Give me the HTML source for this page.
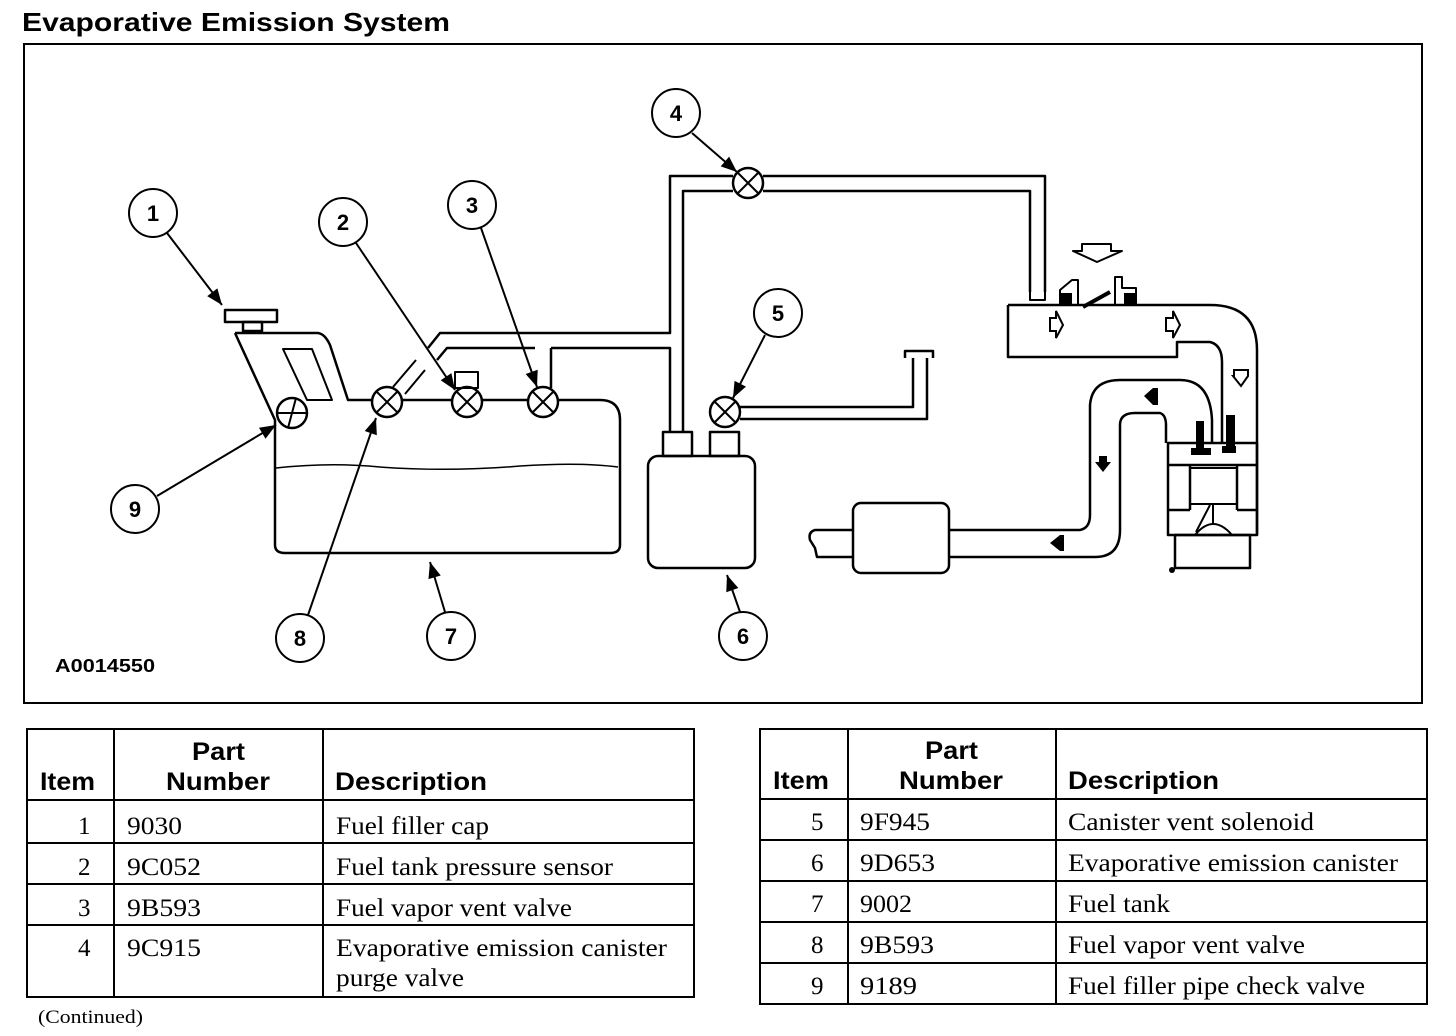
<!DOCTYPE html>
<html><head><meta charset="utf-8"><style>
html,body{margin:0;padding:0;background:#fff;}
svg{display:block;}
.s{font-family:"Liberation Sans",sans-serif;font-weight:bold;}
.r{font-family:"Liberation Serif",serif;}
</style></head><body>
<svg width="1456" height="1036" viewBox="0 0 1456 1036" xmlns="http://www.w3.org/2000/svg">
<defs>
<marker id="a2" viewBox="0 0 10 10" refX="10" refY="5" markerWidth="22" markerHeight="16" orient="auto" markerUnits="userSpaceOnUse">
<path d="M0,1 L10,5 L0,9 z" fill="#000"/></marker>
</defs>
<text x="22" y="31" class="s" font-size="26" textLength="428" lengthAdjust="spacingAndGlyphs">Evaporative Emission System</text>
<rect x="24" y="44" width="1398" height="659" fill="none" stroke="#000" stroke-width="2"/>

<g fill="none" stroke="#000" stroke-width="2.5" stroke-linejoin="round">
<rect x="225" y="310" width="52" height="12"/>
<rect x="243" y="322" width="19" height="9"/>
<path d="M235,333 L318,333 Q325,334 330,345 L348,400 L600,400 Q620,400 620,420 L620,545 Q620,553 610,553 L285,553 Q275,553 275,545 L275,420 L235,333"/>
<path d="M283,349 L312,349 L332,400 L307,400 Z" stroke-width="2"/>
<path d="M276,468 Q330,462 380,467 Q450,472 520,466 Q580,462 618,467" stroke-width="1.5"/>
<circle cx="292" cy="413" r="15" fill="#fff"/>
<path d="M277,413 L307,413 M296,398 L288,428" stroke-width="2"/>
<g fill="#fff">
<circle cx="387" cy="402" r="15"/><circle cx="467" cy="402" r="15"/><circle cx="543" cy="402" r="15"/>
<circle cx="748" cy="183" r="15"/><circle cx="725" cy="412" r="15"/>
</g>
<path d="M376,391 L398,413 M398,391 L376,413 M456,391 L478,413 M478,391 L456,413 M532,391 L554,413 M554,391 L532,413 M737,172 L759,194 M759,172 L737,194 M714,401 L736,423 M736,401 L714,423" stroke-width="2"/>
<rect x="455" y="372" width="23" height="16" stroke-width="2"/>
<path d="M393,387 L416,360 M405,394 L425,370" stroke-width="2"/>
<path d="M428,348 L440,333 L670,333 L670,176 L733,176 M763,176 L1045,176 L1045,292"/>
<path d="M437,360 L447,348 L535,348 M551,348 L670,348 L670,432"/>
<path d="M551,348 L551,388" />
<path d="M683,432 L683,191 L733,191 M763,191 L1030,191 L1030,292"/>
<path d="M1030,292 L1030,300 L1045,300 L1045,292" stroke-width="2"/>
<rect x="663" y="432" width="29" height="24"/><rect x="710" y="432" width="29" height="24"/>
<rect x="648" y="456" width="107" height="112" rx="10"/>
<path d="M740,407 L913,407 L913,358 M740,419 L927,419 L927,358"/>
<path d="M905,358 L905,351 L933,351 L933,358"/>
<rect x="853" y="503" width="96" height="70" rx="8"/>
<path d="M853,530 L815,530 Q808,532 810,540 L815,548 L817,557 L853,557"/>
<path d="M949,530 L1080,530 Q1090,528 1090,515 L1090,405 Q1092,380 1120,380 L1180,380 Q1210,380 1212,420 L1212,443"/>
<path d="M949,557 L1095,557 Q1120,557 1120,530 L1120,425 Q1120,413 1135,413 L1160,413 Q1166,415 1166,425 L1166,443"/>
<path d="M1008,305 L1210,305 Q1257,305 1257,350 L1257,535 M1008,305 L1008,357 L1177,357 L1177,342 L1210,342 Q1222,345 1222,362 L1222,443"/>
<path d="M1060,305 L1060,290 L1072,280 L1078,280 L1078,305 M1115,305 L1115,277 L1122,277 L1122,288 L1136,288 L1136,305" stroke-width="2"/>
<path d="M1083,307 L1110,292" stroke-width="4"/>
<path d="M1082,244 L1111,244 L1111,251 L1122,251 L1097,262 L1073,251 L1082,251 Z" stroke-width="2"/>
<rect x="1168" y="443" width="89" height="92"/>
<path d="M1168,465 L1257,465 M1168,510 L1190,510 M1237,510 L1257,510 M1190,465 L1190,510 M1237,465 L1237,510"/>
<rect x="1190" y="468" width="47" height="36" stroke-width="2"/>
<path d="M1213,504 L1213,525 M1210,505 L1196,532 M1195,535 Q1213,513 1232,535" stroke-width="2"/>
<rect x="1175" y="535" width="75" height="33"/>
</g>
<rect x="1060" y="293" width="12" height="12" fill="#000"/>
<rect x="1124" y="293" width="12" height="12" fill="#000"/>
<rect x="1196" y="421" width="8" height="28" fill="#000"/><rect x="1191" y="448" width="20" height="7" fill="#000"/>
<rect x="1226" y="415" width="9" height="35" fill="#000"/><rect x="1222" y="446" width="14" height="7" fill="#000"/>
<circle cx="1172" cy="570" r="3" fill="#000"/>
<g fill="#fff" stroke="#000" stroke-width="2">
<path d="M1050,318 L1056,318 L1056,311 L1063,325 L1056,338 L1056,331 L1050,331 Z"/>
<path d="M1166,318 L1173,318 L1173,311 L1180,325 L1173,338 L1173,331 L1166,331 Z"/>
<path d="M1234,370 L1248,370 L1248,376 L1241,386 L1233,376 L1234,376 Z"/>
</g>
<g fill="#000">
<path d="M1144,396 L1153,388 L1158,388 L1158,405 L1153,405 Z"/>
<path d="M1095,462 L1111,462 L1103,472 Z"/>
<rect x="1099" y="456" width="8" height="8"/>
<path d="M1050,543 L1060,535 L1064,535 L1064,551 L1060,551 Z"/>
</g>
<g stroke="#000" stroke-width="2" fill="none">
<line x1="167" y1="233" x2="222" y2="305" marker-end="url(#a2)"/>
<line x1="356" y1="243" x2="455" y2="390" marker-end="url(#a2)"/>
<line x1="481" y1="228" x2="537" y2="387" marker-end="url(#a2)"/>
<line x1="692" y1="133" x2="737" y2="172" marker-end="url(#a2)"/>
<line x1="765" y1="335" x2="733" y2="398" marker-end="url(#a2)"/>
<line x1="740" y1="612" x2="727" y2="575" marker-end="url(#a2)"/>
<line x1="445" y1="612" x2="430" y2="562" marker-end="url(#a2)"/>
<line x1="308" y1="615" x2="376" y2="418" marker-end="url(#a2)"/>
<line x1="157" y1="496" x2="276" y2="425" marker-end="url(#a2)"/>
</g>
<g fill="#fff" stroke="#000" stroke-width="2">
<circle cx="153" cy="213" r="24"/><circle cx="343" cy="222" r="24"/><circle cx="472" cy="205" r="24"/>
<circle cx="676" cy="113" r="24"/><circle cx="778" cy="313" r="24"/><circle cx="743" cy="636" r="24"/>
<circle cx="451" cy="636" r="24"/><circle cx="300" cy="638" r="24"/><circle cx="135" cy="509" r="24"/>
</g>
<g class="s" font-size="22" text-anchor="middle">
<text x="153" y="221">1</text><text x="343" y="230">2</text><text x="472" y="213">3</text>
<text x="676" y="121">4</text><text x="778" y="321">5</text><text x="743" y="644">6</text>
<text x="451" y="644">7</text><text x="300" y="646">8</text><text x="135" y="517">9</text>
</g>
<text x="55" y="672" class="s" font-size="18" textLength="100" lengthAdjust="spacingAndGlyphs">A0014550</text>

<g stroke="#000" stroke-width="2" fill="none">
<rect x="27" y="729" width="667" height="268"/>
<path d="M114,729 V997 M323,729 V997 M27,800 H694 M27,843 H694 M27,884 H694 M27,925 H694"/>
<rect x="760" y="729" width="667" height="275"/>
<path d="M848,729 V1004 M1056,729 V1004 M760,799 H1427 M760,840 H1427 M760,881 H1427 M760,922 H1427 M760,963 H1427"/>
</g>
<g class="s" font-size="25" lengthAdjust="spacingAndGlyphs">
<text x="40" y="790" textLength="55" lengthAdjust="spacingAndGlyphs">Item</text>
<text x="192" y="760" textLength="53" lengthAdjust="spacingAndGlyphs">Part</text>
<text x="166" y="790" textLength="104" lengthAdjust="spacingAndGlyphs">Number</text>
<text x="335" y="790" textLength="152" lengthAdjust="spacingAndGlyphs">Description</text>
<text x="773" y="789" textLength="56" lengthAdjust="spacingAndGlyphs">Item</text>
<text x="925" y="759" textLength="53" lengthAdjust="spacingAndGlyphs">Part</text>
<text x="899" y="789" textLength="104" lengthAdjust="spacingAndGlyphs">Number</text>
<text x="1068" y="789" textLength="151" lengthAdjust="spacingAndGlyphs">Description</text>
</g>
<g class="r" font-size="25">
<text x="78" y="834">1</text><text x="127" y="834" textLength="55" lengthAdjust="spacingAndGlyphs">9030</text><text x="336" y="834" textLength="153" lengthAdjust="spacingAndGlyphs">Fuel filler cap</text>
<text x="78" y="875">2</text><text x="127" y="875" textLength="74" lengthAdjust="spacingAndGlyphs">9C052</text><text x="336" y="875" textLength="277" lengthAdjust="spacingAndGlyphs">Fuel tank pressure sensor</text>
<text x="78" y="916">3</text><text x="127" y="916" textLength="74" lengthAdjust="spacingAndGlyphs">9B593</text><text x="336" y="916" textLength="236" lengthAdjust="spacingAndGlyphs">Fuel vapor vent valve</text>
<text x="78" y="956">4</text><text x="127" y="956" textLength="74" lengthAdjust="spacingAndGlyphs">9C915</text><text x="336" y="956" textLength="331" lengthAdjust="spacingAndGlyphs">Evaporative emission canister</text><text x="336" y="986" textLength="128" lengthAdjust="spacingAndGlyphs">purge valve</text>
<text x="811" y="830">5</text><text x="860" y="830" textLength="70" lengthAdjust="spacingAndGlyphs">9F945</text><text x="1068" y="830" textLength="246" lengthAdjust="spacingAndGlyphs">Canister vent solenoid</text>
<text x="811" y="871">6</text><text x="860" y="871" textLength="75" lengthAdjust="spacingAndGlyphs">9D653</text><text x="1068" y="871" textLength="330" lengthAdjust="spacingAndGlyphs">Evaporative emission canister</text>
<text x="811" y="912">7</text><text x="860" y="912" textLength="52" lengthAdjust="spacingAndGlyphs">9002</text><text x="1068" y="912" textLength="102" lengthAdjust="spacingAndGlyphs">Fuel tank</text>
<text x="811" y="953">8</text><text x="860" y="953" textLength="74" lengthAdjust="spacingAndGlyphs">9B593</text><text x="1068" y="953" textLength="237" lengthAdjust="spacingAndGlyphs">Fuel vapor vent valve</text>
<text x="811" y="994">9</text><text x="860" y="994" textLength="57" lengthAdjust="spacingAndGlyphs">9189</text><text x="1068" y="994" textLength="297" lengthAdjust="spacingAndGlyphs">Fuel filler pipe check valve</text>
</g>
<text x="38" y="1023" class="r" font-size="19" textLength="105" lengthAdjust="spacingAndGlyphs">(Continued)</text>
</svg>
</body></html>
